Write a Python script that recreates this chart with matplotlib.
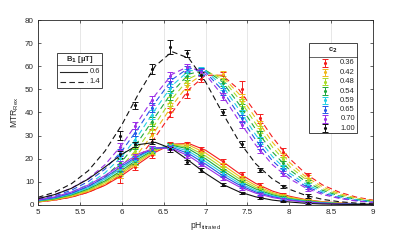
import matplotlib
matplotlib.use("Agg")
import matplotlib.pyplot as plt
from matplotlib.patches import Rectangle
from matplotlib.lines import Line2D

ph_grid = [5.0, 5.2, 5.4, 5.6, 5.8, 6.0, 6.2, 6.4, 6.6, 6.8, 7.0,
           7.2, 7.4, 7.6, 7.8, 8.0, 8.2, 8.4, 8.6, 8.8, 9.0]
# measured points
ph_meas = [5.98, 6.16, 6.36, 6.58, 6.78, 6.95, 7.21, 7.43, 7.65, 7.93, 8.22]

c2_labels = ["0.36", "0.42", "0.48", "0.54", "0.59", "0.65", "0.70", "1.00"]
colors = ["#f41c1c", "#f0b81a", "#a8dc28", "#1fa83c", "#22d0e4", "#2456e8", "#9a2ee8", "#111111"]
b1_labels = ["0.6", "1.4"]

# B1 = 0.6 uT (solid)
fit_06 = [
    [1.3, 2.1, 3.4, 5.5, 8.5, 12.7, 17.8, 22.8, 26.3, 26.6, 23.7, 18.9, 13.7, 9.3, 6.0, 3.8, 2.3, 1.4, 0.9, 0.5, 0.3],
    [1.4, 2.3, 3.7, 5.9, 9.1, 13.5, 18.6, 23.4, 26.2, 25.9, 22.5, 17.5, 12.5, 8.4, 5.4, 3.4, 2.1, 1.3, 0.8, 0.5, 0.3],
    [1.5, 2.5, 4.1, 6.4, 9.8, 14.2, 19.3, 23.8, 26.0, 25.0, 21.2, 16.2, 11.4, 7.6, 4.9, 3.0, 1.9, 1.1, 0.7, 0.4, 0.3],
    [1.7, 2.7, 4.4, 6.9, 10.4, 15.0, 20.0, 24.2, 25.8, 24.2, 20.0, 15.0, 10.4, 6.9, 4.4, 2.7, 1.7, 1.0, 0.6, 0.4, 0.2],
    [1.8, 3.0, 4.7, 7.4, 11.2, 15.9, 20.8, 24.5, 25.4, 23.2, 18.8, 13.9, 9.5, 6.2, 4.0, 2.5, 1.5, 0.9, 0.6, 0.3, 0.2],
    [2.0, 3.2, 5.1, 8.0, 11.9, 16.7, 21.4, 24.6, 24.9, 22.2, 17.7, 12.8, 8.7, 5.6, 3.6, 2.2, 1.3, 0.8, 0.5, 0.3, 0.2],
    [2.2, 3.5, 5.6, 8.6, 12.7, 17.5, 22.1, 24.7, 24.4, 21.2, 16.5, 11.8, 7.9, 5.1, 3.2, 2.0, 1.2, 0.7, 0.4, 0.3, 0.2],
    [2.7, 4.5, 7.2, 11.2, 16.4, 21.9, 26.1, 27.1, 24.3, 19.2, 13.7, 9.0, 5.7, 3.5, 2.1, 1.3, 0.7, 0.4, 0.3, 0.2, 0.1],
]
pts_06 = [
    [12.5, 16.4, 21.6, 26.2, 26.6, 24.3, 18.8, 13.2, 8.5, 4.5, 2.2],
    [13.3, 17.4, 22.6, 26.0, 25.8, 23.1, 17.4, 11.8, 7.6, 4.1, 2.0],
    [14.0, 18.1, 23.1, 25.9, 25.0, 22.0, 16.1, 10.7, 6.8, 3.7, 1.8],
    [14.7, 18.8, 23.6, 25.7, 24.2, 20.8, 14.9, 9.8, 6.1, 3.3, 1.6],
    [15.6, 19.6, 24.0, 25.4, 23.2, 19.7, 13.8, 8.9, 5.6, 3.0, 1.4],
    [16.4, 20.3, 24.3, 25.0, 22.3, 18.6, 12.7, 8.1, 5.0, 2.7, 1.3],
    [17.3, 21.0, 24.5, 24.5, 21.3, 17.5, 11.7, 7.4, 4.6, 2.4, 1.1],
    [22.0, 26.2, 27.4, 24.0, 18.5, 15.0, 8.8, 5.2, 3.1, 1.5, 0.7],
]
err_06 = [
    [3.0, 1.3, 1.2, 1.0, 0.8, 0.9, 0.9, 0.9, 0.8, 0.6, 0.5],
    [1.6, 1.0, 1.0, 0.9, 0.8, 0.8, 0.8, 0.8, 0.6, 0.5, 0.4],
    [1.6, 1.0, 1.0, 0.9, 0.8, 0.8, 0.8, 0.8, 0.6, 0.5, 0.4],
    [1.5, 1.0, 1.0, 0.9, 0.8, 0.8, 0.8, 0.8, 0.6, 0.5, 0.4],
    [1.5, 1.0, 1.0, 0.9, 0.8, 0.8, 0.8, 0.8, 0.6, 0.5, 0.4],
    [1.5, 1.0, 1.0, 0.9, 0.8, 0.8, 0.8, 0.8, 0.6, 0.5, 0.4],
    [1.5, 1.0, 1.0, 0.9, 0.8, 0.8, 0.8, 0.8, 0.6, 0.5, 0.4],
    [1.5, 1.2, 1.0, 1.2, 0.8, 0.8, 0.7, 0.6, 0.5, 0.4, 0.4],
]

# B1 = 1.4 uT (dashed)
fit_14 = [
    [1.3, 2.1, 3.4, 5.5, 8.6, 13.4, 20.2, 29.3, 39.9, 49.9, 56.1, 56.1, 49.9, 39.9, 29.3, 20.2, 13.4, 8.6, 5.5, 3.4, 2.1],
    [1.5, 2.4, 3.8, 6.2, 9.8, 15.0, 22.5, 32.1, 42.9, 52.4, 57.3, 55.6, 48.0, 37.5, 27.1, 18.5, 12.1, 7.8, 4.9, 3.0, 1.9],
    [1.7, 2.7, 4.4, 7.0, 11.0, 16.8, 25.0, 35.1, 45.9, 54.6, 58.0, 54.6, 45.9, 35.1, 25.0, 16.8, 11.0, 7.0, 4.4, 2.7, 1.7],
    [1.9, 3.0, 5.0, 7.9, 12.3, 18.8, 27.6, 38.2, 48.8, 56.6, 58.3, 53.3, 43.6, 32.7, 22.9, 15.3, 10.0, 6.3, 3.9, 2.4, 1.5],
    [2.2, 3.5, 5.7, 8.9, 13.9, 20.9, 30.3, 41.3, 51.6, 58.1, 58.1, 51.6, 41.3, 30.3, 20.9, 13.9, 8.9, 5.7, 3.5, 2.2, 1.3],
    [2.4, 3.9, 6.4, 10.1, 15.5, 23.3, 33.3, 44.4, 54.2, 59.3, 57.5, 49.7, 38.9, 28.1, 19.1, 12.6, 8.0, 5.1, 3.1, 1.9, 1.2],
    [2.8, 4.5, 7.3, 11.4, 17.4, 25.9, 36.4, 47.5, 56.5, 60.0, 56.5, 47.5, 36.4, 25.9, 17.4, 11.4, 7.3, 4.5, 2.8, 1.7, 1.1],
    [3.3, 5.5, 9.2, 14.8, 23.3, 34.6, 48.1, 60.1, 66.3, 63.5, 53.3, 40.0, 27.5, 17.8, 11.2, 6.8, 4.1, 2.4, 1.4, 0.8, 0.5],
]
pts_14 = [
    [13.0, 18.8, 30.7, 40.0, 48.2, 54.5, 56.0, 50.0, 37.5, 23.0, 12.8],
    [14.6, 21.0, 30.4, 42.0, 51.3, 56.0, 56.6, 46.6, 35.0, 21.6, 11.8],
    [16.3, 23.3, 33.0, 44.6, 53.5, 57.1, 54.3, 44.2, 32.8, 19.8, 10.7],
    [18.3, 25.8, 36.0, 47.5, 55.6, 57.8, 52.9, 42.1, 30.4, 18.0, 9.6],
    [20.3, 28.3, 39.0, 50.4, 57.4, 58.0, 51.2, 39.6, 28.0, 16.4, 8.7],
    [22.6, 31.3, 42.0, 53.0, 58.8, 57.8, 49.2, 37.4, 25.9, 15.0, 7.7],
    [25.2, 34.3, 45.2, 55.6, 59.6, 57.3, 46.8, 34.8, 23.9, 13.6, 7.0],
    [30.0, 43.2, 58.8, 68.3, 65.7, 56.0, 40.2, 26.4, 15.1, 8.0, 4.0],
]
err_14 = [
    [1.5, 1.5, 2.0, 2.0, 1.8, 1.5, 1.5, 3.5, 2.0, 1.5, 1.0],
    [1.5, 1.5, 2.0, 2.0, 1.5, 1.5, 1.5, 1.5, 1.5, 1.0, 1.0],
    [1.5, 1.5, 2.0, 2.0, 1.5, 1.5, 1.5, 1.5, 1.5, 1.0, 1.0],
    [1.5, 1.5, 2.0, 2.0, 1.5, 1.5, 1.5, 1.5, 1.5, 1.0, 1.0],
    [1.5, 1.5, 2.0, 2.0, 1.5, 1.5, 1.5, 1.5, 1.5, 1.0, 1.0],
    [1.5, 1.5, 2.0, 2.0, 1.5, 1.5, 1.5, 1.5, 1.5, 1.0, 1.0],
    [1.5, 1.5, 2.0, 2.0, 1.5, 1.5, 1.5, 1.5, 1.5, 1.0, 1.0],
    [1.8, 1.5, 2.0, 3.2, 1.5, 1.5, 1.2, 1.2, 1.0, 0.8, 0.8],
]

plt.rcParams['font.family'] = ['Liberation Sans', 'DejaVu Sans']
plt.rcParams['mathtext.default'] = 'regular'
dark = "#262626"

fig = plt.figure(figsize=(4, 2.44), dpi=100)
ax = fig.add_axes([0.095, 0.16, 0.8375, 0.758])

dash = (0, (5, 3))
for i in range(8):
    ax.plot(ph_grid, fit_06[i], color=colors[i], lw=0.8, zorder=2)
    ax.plot(ph_grid, fit_14[i], color=colors[i], lw=0.8, ls=dash, zorder=2)
    for pts, err in ((pts_06, err_06), (pts_14, err_14)):
        ax.errorbar(ph_meas, pts[i], yerr=err[i], fmt='.', ms=2.5, color=colors[i],
                    elinewidth=0.7, capsize=2, capthick=0.7, zorder=3)

ax.set_xlim(5, 9)
ax.set_ylim(0, 80)
ax.set_xticks([5, 5.5, 6, 6.5, 7, 7.5, 8, 8.5, 9])
ax.set_xticklabels(["5", "5.5", "6", "6.5", "7", "7.5", "8", "8.5", "9"])
ax.set_yticks(range(0, 81, 10))
ax.grid(axis='x', color='#e3e3e3', lw=0.6, zorder=0)
ax.tick_params(direction='in', length=2.5, width=0.5, labelsize=5.8, colors=dark,
               top=True, right=True, pad=3)
for s in ax.spines.values():
    s.set_color(dark)
    s.set_linewidth(0.6)
ax.set_xlabel("pH$_{titrated}$", fontsize=6.2, color=dark, labelpad=3)
ax.set_ylabel("MTR$_{Rex}$", fontsize=6.2, color=dark, labelpad=3)

# legend for B1 (MATLAB style, title with separator)
T = ax.transAxes
ax.add_patch(Rectangle((0.057, 0.632), 0.134, 0.19, transform=T, fc='white',
                       ec=dark, lw=0.6, zorder=5))
ax.add_line(Line2D([0.057, 0.191], [0.757, 0.757], transform=T, color=dark, lw=0.5, zorder=6))
ax.text(0.124, 0.789, r"B$_\mathbf{1}$ [µT]", transform=T, ha='center', va='center',
        fontsize=5.5, weight='bold', color=dark, zorder=6)
for lab, ls, yy in zip(b1_labels, ['-', dash], [0.719, 0.665]):
    ax.add_line(Line2D([0.066, 0.146], [yy, yy], transform=T, color=dark, lw=0.8, ls=ls, zorder=6))
    ax.text(0.186, yy, lab, transform=T, ha='right', va='center', fontsize=5.5,
            color=dark, zorder=6)

# legend for c2
ax.add_patch(Rectangle((0.809, 0.389), 0.143, 0.487, transform=T, fc='white',
                       ec=dark, lw=0.6, zorder=5))
ax.add_line(Line2D([0.809, 0.952], [0.8, 0.8], transform=T, color=dark, lw=0.5, zorder=6))
ax.text(0.881, 0.838, r"c$_\mathbf{2}$", transform=T, ha='center', va='center',
        fontsize=5.5, weight='bold', color=dark, zorder=6)
ys = [0.768, 0.717, 0.667, 0.616, 0.566, 0.515, 0.465, 0.416]
for lab, col, yy in zip(c2_labels, colors, ys):
    ax.errorbar([0.857], [yy], yerr=[0.02], transform=T, fmt='.', ms=2.5, color=col,
                elinewidth=0.7, capsize=2, capthick=0.7, zorder=7)
    ax.text(0.946, yy, lab, transform=T, ha='right', va='center', fontsize=5.5,
            color=dark, zorder=6)

fig.savefig("out.png", dpi=100)
